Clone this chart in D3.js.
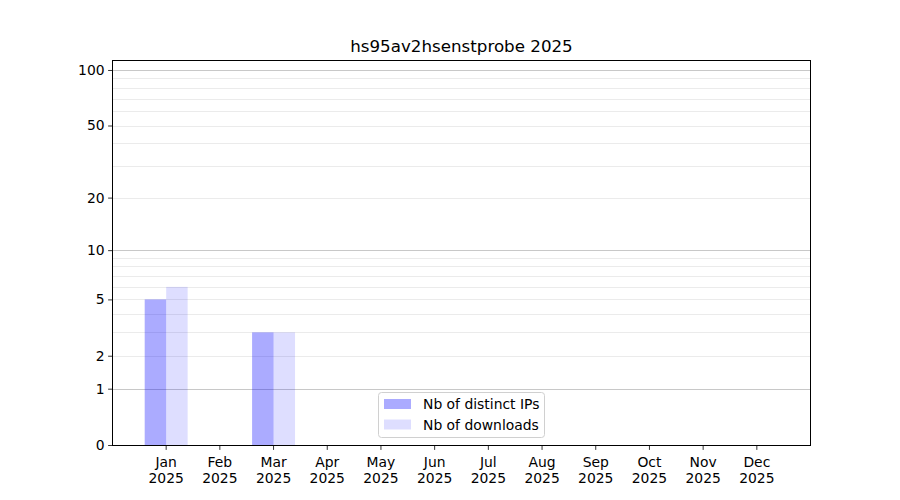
<!DOCTYPE html>
<html><head><meta charset="utf-8">
<script src="https://cdn.jsdelivr.net/npm/d3@7"></script>
<style>body{margin:0;background:#fff;} text{font-family:"DejaVu Sans",sans-serif;}</style>
</head><body>
<svg id="chart" width="900" height="500"></svg>
<script>
const title = "hs95av2hsenstprobe 2025";
const months = ["Jan","Feb","Mar","Apr","May","Jun","Jul","Aug","Sep","Oct","Nov","Dec"];
const yearLabel = "2025";
const distinctIPs = [5,0,3,0,0,0,0,0,0,0,0,0];
const downloads = [6,0,3,0,0,0,0,0,0,0,0,0];
const seriesNames = ["Nb of distinct IPs","Nb of downloads"];
const yTicks = [0,1,2,5,10,20,50,100];
const yMajorGrid = [1,10,100];
const yMinorGrid = [2,3,4,5,6,7,8,9,20,30,40,50,60,70,80,90];

const svg = d3.select("#chart");
const L=113, R=810, T=60, B=445;
const FS="13.9px";
const x = d3.scaleLinear().domain([-0.99, 11.99]).range([L,R]);
const y = d3.scaleSymlog().constant(1).domain([0,113.2]).range([B,T]);
const bw = 0.4;

// grid
svg.append("g").selectAll("line").data(yMinorGrid).join("line")
  .attr("x1",L).attr("x2",R).attr("y1",d=>Math.round(y(d))+0.5).attr("y2",d=>Math.round(y(d))+0.5)
  .attr("stroke","#ebebeb").attr("stroke-width",1);
svg.append("g").selectAll("line").data(yMajorGrid).join("line")
  .attr("x1",L).attr("x2",R).attr("y1",d=>Math.round(y(d))+0.5).attr("y2",d=>Math.round(y(d))+0.5)
  .attr("stroke","#c8c8c8").attr("stroke-width",1);

// bars
const bars = svg.append("g");
bars.selectAll("rect.a").data(distinctIPs).join("rect").attr("class","a")
  .attr("x",(d,i)=>x(i-bw)).attr("width",(d,i)=>x(i)-x(i-bw))
  .attr("y",d=>y(d)).attr("height",d=>B-y(d))
  .attr("fill","blue").attr("fill-opacity",0.33);
bars.selectAll("rect.b").data(downloads).join("rect").attr("class","b")
  .attr("x",(d,i)=>x(i)).attr("width",(d,i)=>x(i+bw)-x(i))
  .attr("y",d=>y(d)).attr("height",d=>B-y(d))
  .attr("fill","blue").attr("fill-opacity",0.13);

// axes
const yAxis = d3.axisLeft(y).tickValues(yTicks).tickFormat(d3.format("d")).tickSize(4.9).tickPadding(3.5);
const gy = svg.append("g").attr("transform",`translate(${L},0)`).call(yAxis);
const xAxis = d3.axisBottom(x).tickValues(d3.range(12)).tickFormat("").tickSize(4.9);
const gx = svg.append("g").attr("transform",`translate(-0.5,${B})`).call(xAxis);
[gy,gx].forEach(g=>{g.select(".domain").remove(); g.selectAll("line").attr("stroke","#000").attr("stroke-width",0.8);
  g.selectAll("text").attr("font-size",FS).attr("fill","#000").attr("font-family","DejaVu Sans");});
gx.selectAll(".tick").each(function(d){
  const t=d3.select(this).append("text").attr("text-anchor","middle").attr("fill","#000")
    .attr("font-size",FS).attr("font-family","DejaVu Sans");
  t.append("tspan").attr("x",0).attr("y",21.5).text(months[d]);
  t.append("tspan").attr("x",0).attr("y",37.5).text(yearLabel);
});

// frame
svg.append("rect").attr("x",L-0.5).attr("y",T+0.5).attr("width",R-L+1).attr("height",B-T)
  .attr("fill","none").attr("stroke","#000").attr("stroke-width",1);

// title
svg.append("text").attr("x",(L+R)/2).attr("y",52).attr("text-anchor","middle")
  .attr("font-size","16.7px").attr("fill","#000").text(title);

// legend
const lg = svg.append("g");
lg.append("rect").attr("x",378.5).attr("y",392.5).attr("width",166).attr("height",45).attr("rx",3)
  .attr("fill","#fff").attr("fill-opacity",0.8).attr("stroke","#d0d0d0").attr("stroke-width",1);
const legendOpac=[0.33,0.13];
seriesNames.forEach((n,i)=>{
  lg.append("rect").attr("x",384).attr("y",399+i*20.5).attr("width",27).attr("height",10)
    .attr("fill","blue").attr("fill-opacity",legendOpac[i]);
  lg.append("text").attr("x",423).attr("y",409+i*20.5).attr("font-size",FS).attr("fill","#000").text(n);
});
</script>
</body></html>
